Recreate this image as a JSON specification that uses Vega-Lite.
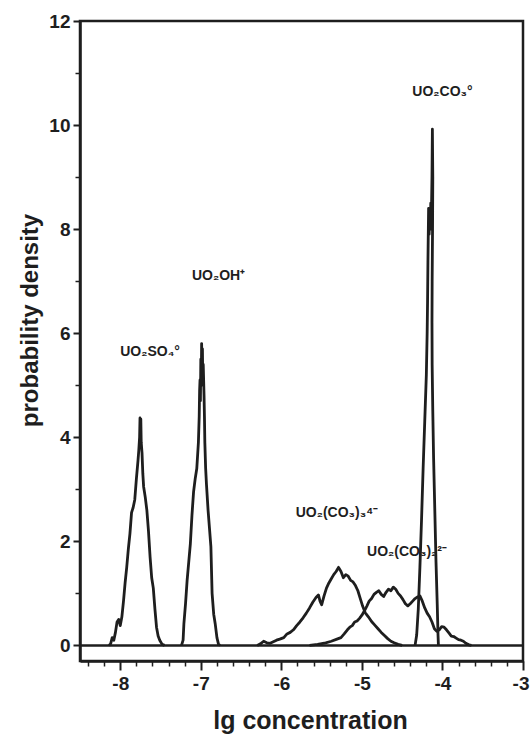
{
  "$schema": "https://vega.github.io/schema/vega-lite/v6.json",
  "width": 443,
  "height": 640,
  "autosize": "none",
  "padding": {"left": 80, "top": 21, "right": 7, "bottom": 73},
  "background": "white",
  "config": {
    "font": "Liberation Sans",
    "view": {"stroke": "#1e1e1e", "strokeWidth": 2.5}
  },
  "datasets": {
    "curves": [
      {"species": "UO2SO4", "x": -8.14, "y": 0},
      {"species": "UO2SO4", "x": -8.12, "y": 0.03},
      {"species": "UO2SO4", "x": -8.1, "y": 0.15},
      {"species": "UO2SO4", "x": -8.08, "y": 0.1},
      {"species": "UO2SO4", "x": -8.06, "y": 0.25},
      {"species": "UO2SO4", "x": -8.04, "y": 0.45},
      {"species": "UO2SO4", "x": -8.02, "y": 0.5},
      {"species": "UO2SO4", "x": -8.0, "y": 0.38},
      {"species": "UO2SO4", "x": -7.98, "y": 0.55},
      {"species": "UO2SO4", "x": -7.96, "y": 0.85},
      {"species": "UO2SO4", "x": -7.94, "y": 1.2},
      {"species": "UO2SO4", "x": -7.92, "y": 1.5},
      {"species": "UO2SO4", "x": -7.9, "y": 1.85},
      {"species": "UO2SO4", "x": -7.88, "y": 2.15},
      {"species": "UO2SO4", "x": -7.86, "y": 2.55},
      {"species": "UO2SO4", "x": -7.84, "y": 2.65},
      {"species": "UO2SO4", "x": -7.82, "y": 2.8},
      {"species": "UO2SO4", "x": -7.8, "y": 3.2},
      {"species": "UO2SO4", "x": -7.78, "y": 3.55},
      {"species": "UO2SO4", "x": -7.77, "y": 3.75},
      {"species": "UO2SO4", "x": -7.76, "y": 4.0},
      {"species": "UO2SO4", "x": -7.755, "y": 4.37},
      {"species": "UO2SO4", "x": -7.75, "y": 4.1},
      {"species": "UO2SO4", "x": -7.745, "y": 4.35},
      {"species": "UO2SO4", "x": -7.74, "y": 3.9},
      {"species": "UO2SO4", "x": -7.73, "y": 3.7},
      {"species": "UO2SO4", "x": -7.72, "y": 3.3},
      {"species": "UO2SO4", "x": -7.71, "y": 3.05},
      {"species": "UO2SO4", "x": -7.69, "y": 2.85},
      {"species": "UO2SO4", "x": -7.67, "y": 2.6},
      {"species": "UO2SO4", "x": -7.65, "y": 2.2},
      {"species": "UO2SO4", "x": -7.63, "y": 1.7},
      {"species": "UO2SO4", "x": -7.61, "y": 1.3},
      {"species": "UO2SO4", "x": -7.59, "y": 1.1},
      {"species": "UO2SO4", "x": -7.57, "y": 0.7},
      {"species": "UO2SO4", "x": -7.55, "y": 0.35},
      {"species": "UO2SO4", "x": -7.53, "y": 0.18},
      {"species": "UO2SO4", "x": -7.51, "y": 0.1},
      {"species": "UO2SO4", "x": -7.48, "y": 0.02},
      {"species": "UO2SO4", "x": -7.45, "y": 0},

      {"species": "UO2OH", "x": -7.24, "y": 0},
      {"species": "UO2OH", "x": -7.22, "y": 0.1},
      {"species": "UO2OH", "x": -7.21, "y": 0.42},
      {"species": "UO2OH", "x": -7.19, "y": 0.8},
      {"species": "UO2OH", "x": -7.17, "y": 1.25},
      {"species": "UO2OH", "x": -7.15, "y": 1.6},
      {"species": "UO2OH", "x": -7.13, "y": 1.95},
      {"species": "UO2OH", "x": -7.11, "y": 2.5},
      {"species": "UO2OH", "x": -7.09, "y": 2.95},
      {"species": "UO2OH", "x": -7.07, "y": 3.2},
      {"species": "UO2OH", "x": -7.05, "y": 3.4},
      {"species": "UO2OH", "x": -7.03, "y": 3.9},
      {"species": "UO2OH", "x": -7.02, "y": 4.4},
      {"species": "UO2OH", "x": -7.015, "y": 4.9},
      {"species": "UO2OH", "x": -7.01, "y": 5.1},
      {"species": "UO2OH", "x": -7.005, "y": 4.7},
      {"species": "UO2OH", "x": -7.0, "y": 5.5},
      {"species": "UO2OH", "x": -6.995, "y": 5.0},
      {"species": "UO2OH", "x": -6.99, "y": 5.8},
      {"species": "UO2OH", "x": -6.985, "y": 5.2},
      {"species": "UO2OH", "x": -6.98, "y": 5.7},
      {"species": "UO2OH", "x": -6.975, "y": 5.0},
      {"species": "UO2OH", "x": -6.97, "y": 5.4},
      {"species": "UO2OH", "x": -6.96, "y": 4.8},
      {"species": "UO2OH", "x": -6.955, "y": 4.4},
      {"species": "UO2OH", "x": -6.95, "y": 3.9},
      {"species": "UO2OH", "x": -6.94, "y": 3.4},
      {"species": "UO2OH", "x": -6.93, "y": 3.1},
      {"species": "UO2OH", "x": -6.91, "y": 2.6},
      {"species": "UO2OH", "x": -6.89, "y": 2.2},
      {"species": "UO2OH", "x": -6.875, "y": 1.9},
      {"species": "UO2OH", "x": -6.86, "y": 1.0},
      {"species": "UO2OH", "x": -6.84, "y": 0.6},
      {"species": "UO2OH", "x": -6.82, "y": 0.4},
      {"species": "UO2OH", "x": -6.8, "y": 0.15},
      {"species": "UO2OH", "x": -6.78, "y": 0.02},
      {"species": "UO2OH", "x": -6.76, "y": 0},

      {"species": "UO2(CO3)3", "x": -6.3, "y": 0},
      {"species": "UO2(CO3)3", "x": -6.26, "y": 0.03},
      {"species": "UO2(CO3)3", "x": -6.22, "y": 0.08},
      {"species": "UO2(CO3)3", "x": -6.18, "y": 0.05},
      {"species": "UO2(CO3)3", "x": -6.14, "y": 0.04},
      {"species": "UO2(CO3)3", "x": -6.1, "y": 0.07},
      {"species": "UO2(CO3)3", "x": -6.06, "y": 0.1},
      {"species": "UO2(CO3)3", "x": -6.02, "y": 0.12},
      {"species": "UO2(CO3)3", "x": -5.97, "y": 0.15},
      {"species": "UO2(CO3)3", "x": -5.93, "y": 0.22},
      {"species": "UO2(CO3)3", "x": -5.89, "y": 0.25},
      {"species": "UO2(CO3)3", "x": -5.85, "y": 0.3},
      {"species": "UO2(CO3)3", "x": -5.81, "y": 0.38},
      {"species": "UO2(CO3)3", "x": -5.77, "y": 0.45},
      {"species": "UO2(CO3)3", "x": -5.73, "y": 0.53},
      {"species": "UO2(CO3)3", "x": -5.69, "y": 0.62},
      {"species": "UO2(CO3)3", "x": -5.65, "y": 0.72},
      {"species": "UO2(CO3)3", "x": -5.61, "y": 0.83},
      {"species": "UO2(CO3)3", "x": -5.57, "y": 0.92},
      {"species": "UO2(CO3)3", "x": -5.54, "y": 0.97},
      {"species": "UO2(CO3)3", "x": -5.52, "y": 0.85},
      {"species": "UO2(CO3)3", "x": -5.5, "y": 0.78},
      {"species": "UO2(CO3)3", "x": -5.47, "y": 0.95},
      {"species": "UO2(CO3)3", "x": -5.44, "y": 1.1},
      {"species": "UO2(CO3)3", "x": -5.41, "y": 1.2},
      {"species": "UO2(CO3)3", "x": -5.38, "y": 1.28},
      {"species": "UO2(CO3)3", "x": -5.35, "y": 1.36},
      {"species": "UO2(CO3)3", "x": -5.32, "y": 1.42},
      {"species": "UO2(CO3)3", "x": -5.29, "y": 1.5},
      {"species": "UO2(CO3)3", "x": -5.26, "y": 1.42},
      {"species": "UO2(CO3)3", "x": -5.23, "y": 1.3},
      {"species": "UO2(CO3)3", "x": -5.2, "y": 1.36},
      {"species": "UO2(CO3)3", "x": -5.17, "y": 1.33},
      {"species": "UO2(CO3)3", "x": -5.14, "y": 1.25},
      {"species": "UO2(CO3)3", "x": -5.11, "y": 1.22},
      {"species": "UO2(CO3)3", "x": -5.08, "y": 1.15},
      {"species": "UO2(CO3)3", "x": -5.05, "y": 1.05},
      {"species": "UO2(CO3)3", "x": -5.02, "y": 0.9},
      {"species": "UO2(CO3)3", "x": -4.99, "y": 0.75},
      {"species": "UO2(CO3)3", "x": -4.96, "y": 0.63},
      {"species": "UO2(CO3)3", "x": -4.92, "y": 0.55},
      {"species": "UO2(CO3)3", "x": -4.88, "y": 0.46},
      {"species": "UO2(CO3)3", "x": -4.84, "y": 0.39},
      {"species": "UO2(CO3)3", "x": -4.8, "y": 0.32},
      {"species": "UO2(CO3)3", "x": -4.76, "y": 0.25},
      {"species": "UO2(CO3)3", "x": -4.72, "y": 0.19},
      {"species": "UO2(CO3)3", "x": -4.68, "y": 0.13},
      {"species": "UO2(CO3)3", "x": -4.64, "y": 0.08},
      {"species": "UO2(CO3)3", "x": -4.6, "y": 0.05},
      {"species": "UO2(CO3)3", "x": -4.55, "y": 0.02},
      {"species": "UO2(CO3)3", "x": -4.5, "y": 0},

      {"species": "UO2(CO3)2", "x": -5.65, "y": 0},
      {"species": "UO2(CO3)2", "x": -5.55, "y": 0.02},
      {"species": "UO2(CO3)2", "x": -5.45, "y": 0.05},
      {"species": "UO2(CO3)2", "x": -5.38, "y": 0.08},
      {"species": "UO2(CO3)2", "x": -5.31, "y": 0.12},
      {"species": "UO2(CO3)2", "x": -5.26, "y": 0.15},
      {"species": "UO2(CO3)2", "x": -5.22, "y": 0.22},
      {"species": "UO2(CO3)2", "x": -5.18, "y": 0.3},
      {"species": "UO2(CO3)2", "x": -5.15, "y": 0.35},
      {"species": "UO2(CO3)2", "x": -5.12, "y": 0.38},
      {"species": "UO2(CO3)2", "x": -5.09, "y": 0.45},
      {"species": "UO2(CO3)2", "x": -5.06, "y": 0.47},
      {"species": "UO2(CO3)2", "x": -5.03, "y": 0.52},
      {"species": "UO2(CO3)2", "x": -5.0, "y": 0.58},
      {"species": "UO2(CO3)2", "x": -4.97, "y": 0.66},
      {"species": "UO2(CO3)2", "x": -4.94, "y": 0.75},
      {"species": "UO2(CO3)2", "x": -4.91, "y": 0.85},
      {"species": "UO2(CO3)2", "x": -4.88, "y": 0.9},
      {"species": "UO2(CO3)2", "x": -4.85, "y": 0.98},
      {"species": "UO2(CO3)2", "x": -4.82, "y": 1.02},
      {"species": "UO2(CO3)2", "x": -4.79, "y": 1.05},
      {"species": "UO2(CO3)2", "x": -4.76, "y": 0.98},
      {"species": "UO2(CO3)2", "x": -4.73, "y": 0.94},
      {"species": "UO2(CO3)2", "x": -4.7, "y": 1.02},
      {"species": "UO2(CO3)2", "x": -4.67, "y": 1.08},
      {"species": "UO2(CO3)2", "x": -4.64, "y": 1.05},
      {"species": "UO2(CO3)2", "x": -4.61, "y": 1.12},
      {"species": "UO2(CO3)2", "x": -4.58, "y": 1.08},
      {"species": "UO2(CO3)2", "x": -4.55, "y": 1.0},
      {"species": "UO2(CO3)2", "x": -4.52, "y": 0.95},
      {"species": "UO2(CO3)2", "x": -4.49, "y": 0.88},
      {"species": "UO2(CO3)2", "x": -4.46, "y": 0.8},
      {"species": "UO2(CO3)2", "x": -4.43, "y": 0.76},
      {"species": "UO2(CO3)2", "x": -4.4, "y": 0.8},
      {"species": "UO2(CO3)2", "x": -4.37, "y": 0.85},
      {"species": "UO2(CO3)2", "x": -4.34, "y": 0.9},
      {"species": "UO2(CO3)2", "x": -4.31, "y": 0.93},
      {"species": "UO2(CO3)2", "x": -4.28, "y": 0.95},
      {"species": "UO2(CO3)2", "x": -4.25, "y": 0.85},
      {"species": "UO2(CO3)2", "x": -4.22, "y": 0.72},
      {"species": "UO2(CO3)2", "x": -4.19, "y": 0.62},
      {"species": "UO2(CO3)2", "x": -4.16, "y": 0.55},
      {"species": "UO2(CO3)2", "x": -4.13, "y": 0.45},
      {"species": "UO2(CO3)2", "x": -4.1, "y": 0.32},
      {"species": "UO2(CO3)2", "x": -4.07, "y": 0.27},
      {"species": "UO2(CO3)2", "x": -4.04, "y": 0.3},
      {"species": "UO2(CO3)2", "x": -4.01, "y": 0.36},
      {"species": "UO2(CO3)2", "x": -3.98, "y": 0.35},
      {"species": "UO2(CO3)2", "x": -3.95, "y": 0.3},
      {"species": "UO2(CO3)2", "x": -3.92, "y": 0.24},
      {"species": "UO2(CO3)2", "x": -3.89, "y": 0.18},
      {"species": "UO2(CO3)2", "x": -3.86, "y": 0.17},
      {"species": "UO2(CO3)2", "x": -3.83, "y": 0.14},
      {"species": "UO2(CO3)2", "x": -3.8, "y": 0.11},
      {"species": "UO2(CO3)2", "x": -3.77, "y": 0.1},
      {"species": "UO2(CO3)2", "x": -3.74, "y": 0.08},
      {"species": "UO2(CO3)2", "x": -3.71, "y": 0.04},
      {"species": "UO2(CO3)2", "x": -3.67, "y": 0.01},
      {"species": "UO2(CO3)2", "x": -3.64, "y": 0},

      {"species": "UO2CO3", "x": -4.34, "y": 0},
      {"species": "UO2CO3", "x": -4.32, "y": 0.2},
      {"species": "UO2CO3", "x": -4.3, "y": 0.7},
      {"species": "UO2CO3", "x": -4.28, "y": 1.5},
      {"species": "UO2CO3", "x": -4.26, "y": 2.4},
      {"species": "UO2CO3", "x": -4.24, "y": 3.4},
      {"species": "UO2CO3", "x": -4.22, "y": 4.3},
      {"species": "UO2CO3", "x": -4.2, "y": 5.2},
      {"species": "UO2CO3", "x": -4.19, "y": 6.0},
      {"species": "UO2CO3", "x": -4.185, "y": 6.6},
      {"species": "UO2CO3", "x": -4.18, "y": 7.4},
      {"species": "UO2CO3", "x": -4.172, "y": 8.4},
      {"species": "UO2CO3", "x": -4.165, "y": 7.9},
      {"species": "UO2CO3", "x": -4.16, "y": 8.3},
      {"species": "UO2CO3", "x": -4.152, "y": 8.0},
      {"species": "UO2CO3", "x": -4.145, "y": 8.5},
      {"species": "UO2CO3", "x": -4.138, "y": 8.2},
      {"species": "UO2CO3", "x": -4.13, "y": 9.0},
      {"species": "UO2CO3", "x": -4.125, "y": 9.92},
      {"species": "UO2CO3", "x": -4.12, "y": 9.0},
      {"species": "UO2CO3", "x": -4.123, "y": 8.0},
      {"species": "UO2CO3", "x": -4.128, "y": 7.0},
      {"species": "UO2CO3", "x": -4.13, "y": 6.2},
      {"species": "UO2CO3", "x": -4.128, "y": 5.4},
      {"species": "UO2CO3", "x": -4.12, "y": 4.5},
      {"species": "UO2CO3", "x": -4.11, "y": 3.6},
      {"species": "UO2CO3", "x": -4.095, "y": 2.6},
      {"species": "UO2CO3", "x": -4.08, "y": 1.6},
      {"species": "UO2CO3", "x": -4.065, "y": 0.8},
      {"species": "UO2CO3", "x": -4.055, "y": 0.2},
      {"species": "UO2CO3", "x": -4.05, "y": 0}
    ],
    "labels": [
      {"label": "UO₂SO₄°", "x": -7.63, "y": 5.63},
      {"label": "UO₂OH⁺", "x": -6.78, "y": 7.1},
      {"label": "UO₂CO₃°", "x": -4.0, "y": 10.63},
      {"label": "UO₂(CO₃)₃⁴⁻", "x": -5.31, "y": 2.54},
      {"label": "UO₂(CO₃)₂²⁻", "x": -4.44, "y": 1.79}
    ]
  },
  "layer": [
    {
      "description": "zero baseline across the plot; carries the minor tick marks",
      "data": {"values": [{}]},
      "mark": {"type": "rule", "stroke": "#1e1e1e", "strokeWidth": 2.5},
      "encoding": {
        "x": {
          "datum": -8.5,
          "type": "quantitative",
          "scale": {"domain": [-8.5, -3], "nice": false, "zero": false},
          "axis": {
            "orient": "bottom",
            "values": [-8.4, -8.2, -7.8, -7.6, -7.4, -7.2, -6.8, -6.6, -6.4, -6.2, -5.8, -5.6, -5.4, -5.2, -4.8, -4.6, -4.4, -4.2, -3.8, -3.6, -3.4, -3.2],
            "labels": false,
            "domain": false,
            "grid": false,
            "ticks": true,
            "tickSize": 5,
            "tickWidth": 1.5,
            "tickColor": "#1e1e1e",
            "title": null
          }
        },
        "x2": {"datum": -3},
        "y": {
          "datum": 0,
          "type": "quantitative",
          "scale": {"domain": [-0.3, 12], "nice": false, "zero": false},
          "axis": {
            "orient": "left",
            "values": [1, 3, 5, 7, 9, 11],
            "labels": false,
            "domain": false,
            "grid": false,
            "ticks": true,
            "tickSize": 5,
            "tickWidth": 1.5,
            "tickColor": "#1e1e1e",
            "title": null
          }
        }
      }
    },
    {
      "data": {"name": "curves"},
      "mark": {"type": "line", "stroke": "#1e1e1e", "strokeWidth": 2.8, "strokeJoin": "round"},
      "encoding": {
        "x": {
          "field": "x",
          "type": "quantitative",
          "scale": {"domain": [-8.5, -3], "nice": false, "zero": false},
          "axis": {
            "orient": "bottom",
            "values": [-8, -7, -6, -5, -4, -3],
            "labelExpr": "'' + datum.value",
            "grid": false,
            "domainColor": "#1e1e1e",
            "domainWidth": 2.5,
            "tickColor": "#1e1e1e",
            "tickWidth": 2,
            "tickSize": 9,
            "labelFont": "Liberation Sans",
            "labelFontWeight": "bold",
            "labelFontSize": 19,
            "labelColor": "#1e1e1e",
            "labelPadding": 4,
            "labelOverlap": false,
            "labelFlush": true,
            "labelFlushOffset": 6,
            "title": "lg concentration",
            "titleFont": "Liberation Sans",
            "titleFontWeight": "bold",
            "titleFontSize": 25,
            "titleColor": "#1e1e1e",
            "titleX": 230,
            "titleY": 67,
            "titleBaseline": "alphabetic"
          }
        },
        "y": {
          "field": "y",
          "type": "quantitative",
          "scale": {"domain": [-0.3, 12], "nice": false, "zero": false},
          "axis": {
            "orient": "left",
            "values": [0, 2, 4, 6, 8, 10, 12],
            "grid": false,
            "domainColor": "#1e1e1e",
            "domainWidth": 2.5,
            "tickColor": "#1e1e1e",
            "tickWidth": 2,
            "tickSize": 7,
            "labelFont": "Liberation Sans",
            "labelFontWeight": "bold",
            "labelFontSize": 19,
            "labelColor": "#1e1e1e",
            "labelPadding": 3,
            "title": "probability density",
            "titleFont": "Liberation Sans",
            "titleFontWeight": "bold",
            "titleFontSize": 24,
            "titleColor": "#1e1e1e",
            "titleX": -38,
            "titleY": 299,
            "titleBaseline": "bottom"
          }
        },
        "detail": {"field": "species"},
        "order": {"value": null}
      }
    },
    {
      "data": {"name": "labels"},
      "mark": {"type": "text", "font": "Liberation Sans", "fontWeight": "bold", "fontSize": 14, "fill": "#1e1e1e"},
      "encoding": {
        "x": {"field": "x", "type": "quantitative", "axis": null},
        "y": {"field": "y", "type": "quantitative", "axis": null},
        "text": {"field": "label"}
      }
    }
  ],
  "resolve": {"axis": {"x": "independent", "y": "independent"}}
}
